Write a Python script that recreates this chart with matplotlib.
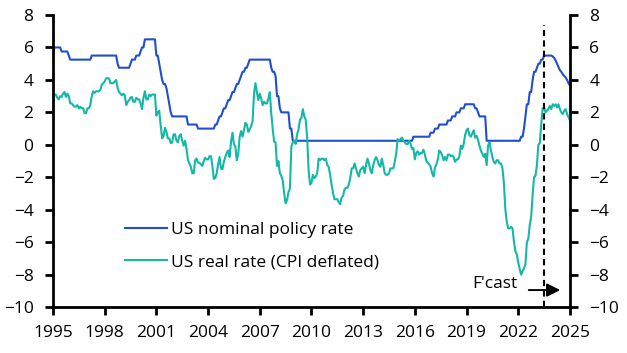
import matplotlib
matplotlib.use("Agg")
import matplotlib.pyplot as plt
import numpy as np

# monthly data, Jan 1995 - Jun 2023 (history)
nominal_hist = [
    5.5, 6.0, 6.0, 6.0, 6.0, 6.0, 5.75, 5.75, 5.75, 5.75, 5.75, 5.5,      # 1995
    5.25, 5.25, 5.25, 5.25, 5.25, 5.25, 5.25, 5.25, 5.25, 5.25, 5.25, 5.25,  # 1996
    5.25, 5.25, 5.25, 5.5, 5.5, 5.5, 5.5, 5.5, 5.5, 5.5, 5.5, 5.5,        # 1997
    5.5, 5.5, 5.5, 5.5, 5.5, 5.5, 5.5, 5.5, 5.5, 5.0, 4.75, 4.75,         # 1998
    4.75, 4.75, 4.75, 4.75, 4.75, 4.75, 5.0, 5.25, 5.25, 5.25, 5.5, 5.5,  # 1999
    5.5, 5.75, 6.0, 6.0, 6.5, 6.5, 6.5, 6.5, 6.5, 6.5, 6.5, 6.5,          # 2000
    5.5, 5.5, 5.0, 4.5, 4.0, 3.75, 3.75, 3.5, 3.0, 2.5, 2.0, 1.75,        # 2001
    1.75, 1.75, 1.75, 1.75, 1.75, 1.75, 1.75, 1.75, 1.75, 1.75, 1.25, 1.25,  # 2002
    1.25, 1.25, 1.25, 1.25, 1.25, 1.0, 1.0, 1.0, 1.0, 1.0, 1.0, 1.0,      # 2003
    1.0, 1.0, 1.0, 1.0, 1.0, 1.25, 1.25, 1.5, 1.75, 1.75, 2.0, 2.25,      # 2004
    2.25, 2.5, 2.75, 2.75, 3.0, 3.25, 3.25, 3.5, 3.75, 3.75, 4.0, 4.25,   # 2005
    4.5, 4.5, 4.75, 4.75, 5.0, 5.25, 5.25, 5.25, 5.25, 5.25, 5.25, 5.25,  # 2006
    5.25, 5.25, 5.25, 5.25, 5.25, 5.25, 5.25, 5.25, 4.75, 4.5, 4.5, 4.25,  # 2007
    3.0, 3.0, 2.25, 2.0, 2.0, 2.0, 2.0, 2.0, 2.0, 1.0, 1.0, 0.25,         # 2008
    0.25, 0.25, 0.25, 0.25, 0.25, 0.25, 0.25, 0.25, 0.25, 0.25, 0.25, 0.25,  # 2009
    0.25, 0.25, 0.25, 0.25, 0.25, 0.25, 0.25, 0.25, 0.25, 0.25, 0.25, 0.25,  # 2010
    0.25, 0.25, 0.25, 0.25, 0.25, 0.25, 0.25, 0.25, 0.25, 0.25, 0.25, 0.25,  # 2011
    0.25, 0.25, 0.25, 0.25, 0.25, 0.25, 0.25, 0.25, 0.25, 0.25, 0.25, 0.25,  # 2012
    0.25, 0.25, 0.25, 0.25, 0.25, 0.25, 0.25, 0.25, 0.25, 0.25, 0.25, 0.25,  # 2013
    0.25, 0.25, 0.25, 0.25, 0.25, 0.25, 0.25, 0.25, 0.25, 0.25, 0.25, 0.25,  # 2014
    0.25, 0.25, 0.25, 0.25, 0.25, 0.25, 0.25, 0.25, 0.25, 0.25, 0.25, 0.5,   # 2015
    0.5, 0.5, 0.5, 0.5, 0.5, 0.5, 0.5, 0.5, 0.5, 0.5, 0.5, 0.75,          # 2016
    0.75, 0.75, 1.0, 1.0, 1.0, 1.25, 1.25, 1.25, 1.25, 1.25, 1.25, 1.5,   # 2017
    1.5, 1.5, 1.75, 1.75, 1.75, 2.0, 2.0, 2.0, 2.25, 2.25, 2.25, 2.5,     # 2018
    2.5, 2.5, 2.5, 2.5, 2.5, 2.5, 2.25, 2.25, 2.0, 1.75, 1.75, 1.75,      # 2019
    1.75, 1.75, 0.25, 0.25, 0.25, 0.25, 0.25, 0.25, 0.25, 0.25, 0.25, 0.25,  # 2020
    0.25, 0.25, 0.25, 0.25, 0.25, 0.25, 0.25, 0.25, 0.25, 0.25, 0.25, 0.25,  # 2021
    0.25, 0.25, 0.5, 0.5, 1.0, 1.75, 2.5, 2.5, 3.25, 3.25, 4.0, 4.5,      # 2022
    4.5, 4.75, 5.0, 5.0, 5.25, 5.25,                                      # 2023 H1
]
real_hist = [
    2.7, 3.1, 3.1, 2.9, 2.8, 3.0, 2.95, 3.15, 3.25, 2.95, 3.15, 3.0,
    2.55, 2.55, 2.45, 2.35, 2.35, 2.45, 2.25, 2.35, 2.25, 2.25, 1.95, 1.95,
    2.25, 2.25, 2.45, 3.0, 3.3, 3.2, 3.3, 3.3, 3.3, 3.4, 3.7, 3.8,
    3.9, 4.1, 4.1, 4.1, 3.8, 3.8, 3.8, 3.9, 4.0, 3.5, 3.25, 3.15,
    3.05, 3.15, 3.05, 2.45, 2.65, 2.75, 2.9, 2.95, 2.65, 2.65, 2.9, 2.8,
    2.8, 2.55, 2.2, 2.9, 3.3, 2.8, 2.8, 3.1, 3.0, 3.1, 3.1, 3.1,
    1.8, 2.0, 2.1, 1.2, 0.4, 0.55, 1.05, 0.8, 0.4, 0.4, 0.1, 0.15,
    0.65, 0.65, 0.25, 0.15, 0.55, 0.65, 0.25, -0.05, 0.25, -0.25, -0.95, -1.15,
    -1.35, -1.75, -1.75, -0.95, -0.85, -1.1, -1.1, -1.2, -1.3, -1.0, -0.8, -0.9,
    -0.9, -0.7, -0.7, -1.3, -2.1, -2.05, -1.75, -1.2, -0.75, -1.45, -1.5, -1.05,
    -0.75, -0.5, -0.35, -0.75, 0.2, 0.75, 0.05, -0.1, -0.95, -0.55, 0.5, 0.85,
    0.5, 0.9, 1.35, 1.25, 0.8, 0.95, 1.15, 1.45, 3.15, 3.8, 3.25, 2.75,
    3.15, 2.85, 2.45, 2.65, 2.55, 2.55, 2.85, 3.25, 1.95, 1.0, 0.2, 0.15,
    -1.3, -1.0, -1.75, -1.9, -2.2, -3.0, -3.6, -3.4, -2.9, -2.7, -0.1, 0.15,
    0.25, 0.05, 0.65, 0.95, 1.55, 1.65, 2.2, 1.75, 1.55, 0.45, -1.55, -2.45,
    -2.35, -1.85, -2.05, -1.95, -1.75, -0.85, -0.95, -0.85, -0.85, -0.95, -0.85, -1.25,
    -1.35, -1.85, -2.45, -2.95, -3.35, -3.35, -3.35, -3.55, -3.65, -3.25, -3.15, -2.75,
    -2.65, -2.65, -2.45, -2.05, -1.45, -1.45, -1.15, -1.45, -1.75, -1.95, -1.55, -1.45,
    -1.35, -1.75, -1.25, -0.85, -1.15, -1.55, -1.75, -1.25, -0.95, -0.75, -0.95, -1.25,
    -1.35, -0.85, -1.25, -1.75, -1.85, -1.85, -1.75, -1.45, -1.45, -1.45, -1.05, -0.55,
    0.35, 0.25, 0.35, 0.45, 0.25, 0.15, 0.05, 0.05, 0.25, 0.05, -0.25, -0.2,
    -0.9, -0.5, -0.4, -0.6, -0.5, -0.5, -0.3, -0.6, -1.0, -1.1, -1.2, -1.35,
    -1.75, -1.95, -1.4, -1.2, -0.9, -0.35, -0.45, -0.65, -0.95, -0.75, -0.95, -0.6,
    -0.6, -0.7, -0.65, -0.75, -1.05, -0.9, -0.9, -0.7, -0.05, -0.25, 0.05, 0.6,
    0.9, 1.0, 0.6, 0.5, 0.7, 0.9, 0.45, 0.55, 0.3, -0.05, -0.35, -0.55,
    -0.75, -0.55, -1.25, -0.05, 0.15, -0.35, -0.75, -1.05, -1.15, -0.95, -0.95, -1.15,
    -1.15, -1.45, -2.35, -3.95, -4.75, -5.15, -5.15, -5.05, -5.15, -5.95, -6.55, -6.75,
    -7.25, -7.65, -8.0, -7.8, -7.6, -7.35, -6.0, -5.8, -4.95, -4.45, -3.1, -2.0,
    -1.9, -1.25, 0.0, 0.1, 1.25, 2.25,
]
# forecast, Jul 2023 - Jan 2025
nominal_fcast = [5.5, 5.5, 5.5, 5.5, 5.5, 5.5, 5.45, 5.35, 5.2, 5.0, 4.8, 4.6,
                 4.5, 4.35, 4.25, 4.15, 4.0, 3.8, 3.65]
real_fcast = [2.3, 2.0, 2.1, 2.2, 2.4, 2.2, 2.5, 2.4, 2.5, 2.3, 2.5, 2.2,
              2.0, 1.9, 2.1, 2.2, 1.9, 1.7, 1.5]

fcast_start = 2023.5
year_ticks = [1995, 1998, 2001, 2004, 2007, 2010, 2013, 2016, 2019, 2022, 2025]
y_ticks = [8, 6, 4, 2, 0, -2, -4, -6, -8, -10]

nominal = nominal_hist + nominal_fcast
real = real_hist + real_fcast
dates = 1995 + np.arange(len(nominal)) / 12

plt.rcParams['font.family'] = ['Open Sans', 'DejaVu Sans']
plt.rcParams['font.size'] = 12.5

fig = plt.figure(figsize=(6.27, 3.53), dpi=100)
ax = fig.add_axes([0.0845, 0.130, 0.8245, 0.8275])

ax.plot(dates, nominal, color='#1f4fd0', lw=1.5, label='US nominal policy rate')
ax.plot(dates, real, color='#14b8a6', lw=1.5, label='US real rate (CPI deflated)')

ax.vlines(fcast_start, -10, 7.4, colors='black', linestyles=(0, (3, 2)), lw=1.5)
ax.annotate('', xy=(2024.6, -8.95), xytext=(2022.45, -8.95),
            arrowprops=dict(arrowstyle='-|>', color='black', lw=1.4, mutation_scale=20))
ax.text(2021.95, -8.6, "F'cast", ha='right', va='center')

ax.set_xlim(1995, 2025)
ax.set_ylim(-10, 8)
ax.set_xticks(year_ticks)
ax.set_yticks(y_ticks)

for s in ['left', 'right', 'bottom']:
    ax.spines[s].set_linewidth(2)
ax.spines['top'].set_visible(False)
ax.tick_params(axis='both', width=2, length=6, direction='out')
ax.tick_params(axis='y', which='both', left=True, right=True,
               labelleft=True, labelright=True, pad=8)
ax.tick_params(axis='x', pad=7)

ax.legend(loc='center left', bbox_to_anchor=(0.139, 0.209), frameon=False,
          borderaxespad=0, borderpad=0, handlelength=2.4, handletextpad=0.25,
          labelspacing=0.95)

fig.savefig('out.png', dpi=100)
